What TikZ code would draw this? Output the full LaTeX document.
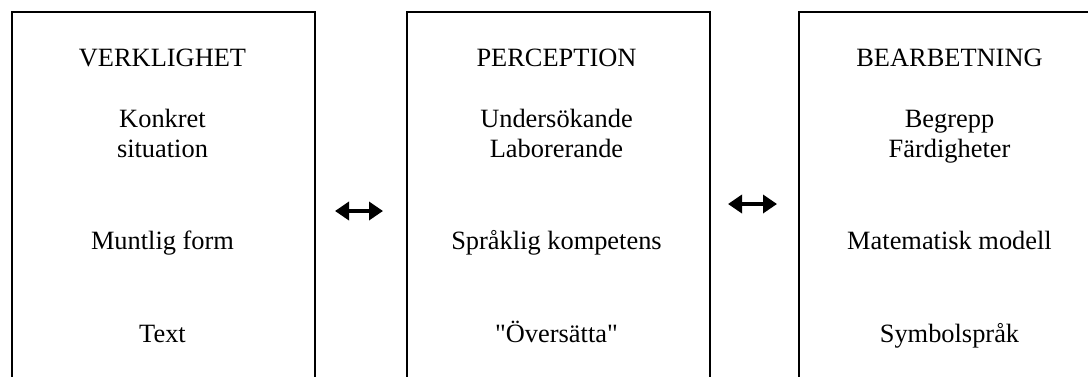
\documentclass[tikz,border=0pt]{standalone}
\usepackage{fontspec}
\setmainfont{Liberation Serif}
% same face without TeX ligatures, so that " stays a straight quote
\newfontfamily\plainserif{Liberation Serif}
\usetikzlibrary{arrows.meta}
\begin{document}
\begin{tikzpicture}[x=0.5pt,y=-0.5pt,
  panel/.style={draw=black, line width=1.1pt, anchor=north west,
    minimum width=151.5pt, minimum height=200pt, inner sep=0pt},
  lbl/.style={anchor=base, inner sep=0pt, font=\fontsize{13.2}{15}\selectfont},
  dbl/.style={line width=2pt, {Triangle[length=7pt,width=9pt]}-{Triangle[length=7pt,width=9pt]}}]
  \path[use as bounding box] (0,0) rectangle (1088,376);
  \clip (0,0) rectangle (1088,376);

  % three panels, open at the bottom of the page
  \node[panel] (real) at (11,11) {};
  \node[panel] (perc) at (406,11) {};
  \node[panel] (bear) at (798,11) {};

  % column 1
  \node[lbl] (h1) at (162.5,66) {VERKLIGHET};
  \node[lbl] (r1a) at (162.5,127) {Konkret};
  \node[lbl] (r1b) at (162.5,157) {situation};
  \node[lbl] (r1c) at (162.5,249) {Muntlig form};
  \node[lbl] (r1d) at (162.5,342) {Text};

  % column 2
  \node[lbl] (h2) at (556.5,66) {PERCEPTION};
  \node[lbl] (r2a) at (556.5,127) {Undersökande};
  \node[lbl] (r2b) at (556.5,157) {Laborerande};
  \node[lbl] (r2c) at (556.5,249) {Språklig kompetens};
  \node[lbl] (r2d) at (556.5,342) {\plainserif"Översätta"};

  % column 3
  \node[lbl] (h3) at (949.5,66) {BEARBETNING};
  \node[lbl] (r3a) at (949.5,127) {Begrepp};
  \node[lbl] (r3b) at (949.5,157) {Färdigheter};
  \node[lbl] (r3c) at (949.5,249) {Matematisk modell};
  \node[lbl] (r3d) at (949.5,342) {Symbolspråk};

  % two-way arrows between the panels
  \coordinate (a1l) at (335,211);
  \coordinate (a1r) at (383,211);
  \coordinate (a2l) at (728,204);
  \coordinate (a2r) at (777,204);
  \draw[dbl] (a1l) -- (a1r);
  \draw[dbl] (a2l) -- (a2r);
\end{tikzpicture}
\end{document}
